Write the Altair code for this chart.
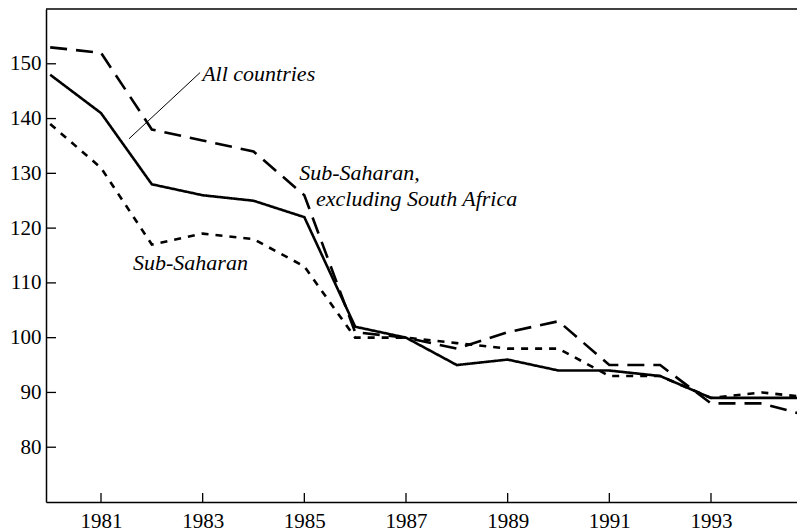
import altair as alt
import pandas as pd

years = list(range(1980, 1996))
all_countries = [148, 141, 128, 126, 125, 122, 102, 100, 95, 96, 94, 94, 93, 89, 89, 89]
ss_excl_sa = [153, 152, 138, 136, 134, 126, 101, 100, 98, 101, 103, 95, 95, 88, 88, 85.5]
sub_saharan = [139, 131, 117, 119, 118, 113, 100, 100, 99, 98, 98, 93, 93, 89, 90, 89]

x_tick_years = [1981, 1983, 1985, 1987, 1989, 1991, 1993]
y_tick_values = [80, 90, 100, 110, 120, 130, 140, 150]

series_names = ["All countries", "Sub-Saharan, excluding South Africa", "Sub-Saharan"]
series_values = [all_countries, ss_excl_sa, sub_saharan]
series_dash = [[1, 0], [17, 9], [7, 7]]

# annotation labels (data coordinates)
label_text = ["All countries", "Sub-Saharan,", "excluding South Africa", "Sub-Saharan"]
label_x = [1982.99, 1984.90, 1985.23, 1981.63]
label_y = [148.2, 130.1, 125.4, 113.7]

leader_x = [1981.55]
leader_y = [136.3]
leader_x2 = [1982.95]
leader_y2 = [148.4]

W, H = 751, 493
X_DOMAIN = [1979.918, 1994.692]
Y_DOMAIN = [70, 160]
FONT = "Times New Roman, Liberation Serif, DejaVu Serif, serif"

rows = []
for name, vals in zip(series_names, series_values):
    for yr, v in zip(years, vals):
        rows.append({"year": yr, "value": v, "series": name})
df = pd.DataFrame(rows)

xs = alt.Scale(domain=X_DOMAIN, nice=False, zero=False)
ys = alt.Scale(domain=Y_DOMAIN, nice=False, zero=False)

x_axis = alt.Axis(values=x_tick_years, format="d", title=None, grid=False,
                  ticks=False, tickSize=0, labelFont=FONT, labelFontSize=21,
                  labelColor="black", labelPadding=8, domainColor="black",
                  domainWidth=1.5, labelFlush=False)
y_axis = alt.Axis(values=y_tick_values, title=None, grid=False,
                  ticks=False, tickSize=0, labelFont=FONT, labelFontSize=21,
                  labelColor="black", labelPadding=5, domainColor="black",
                  domainWidth=1.5, labelFlush=False)

lines = alt.Chart(df).mark_line(clip=True, color="black", strokeWidth=2.6).encode(
    x=alt.X("year:Q", scale=xs, axis=x_axis),
    y=alt.Y("value:Q", scale=ys, axis=y_axis),
    strokeDash=alt.StrokeDash("series:N",
                              scale=alt.Scale(domain=series_names, range=series_dash),
                              legend=None),
    detail="series:N",
)

xt = alt.Chart(pd.DataFrame({"year": x_tick_years})).mark_rule(color="black", strokeWidth=1.3).encode(
    x=alt.X("year:Q", scale=xs),
    y=alt.value(H),
    y2=alt.value(H - 9),
)
yt = alt.Chart(pd.DataFrame({"v": y_tick_values})).mark_rule(color="black", strokeWidth=1.3).encode(
    y=alt.Y("v:Q", scale=ys),
    x=alt.value(0),
    x2=alt.value(10),
)

top = alt.Chart(pd.DataFrame({"a": [0]})).mark_rule(color="black", strokeWidth=1.5).encode(
    x=alt.value(0), x2=alt.value(W), y=alt.value(0)
)

lab_df = pd.DataFrame({"t": label_text, "x": label_x, "y": label_y})
labels = alt.Chart(lab_df).mark_text(font=FONT, fontStyle="italic", fontSize=22,
                                     align="left", baseline="middle", color="black").encode(
    x=alt.X("x:Q", scale=xs),
    y=alt.Y("y:Q", scale=ys),
    text="t:N",
)

lead_df = pd.DataFrame({"x": leader_x, "y": leader_y, "x2": leader_x2, "y2": leader_y2})
leader = alt.Chart(lead_df).mark_rule(color="black", strokeWidth=1).encode(
    x=alt.X("x:Q", scale=xs), y=alt.Y("y:Q", scale=ys),
    x2="x2:Q", y2="y2:Q",
)

chart = alt.layer(lines, xt, yt, top, leader, labels).properties(
    width=W, height=H,
    autosize=alt.AutoSizeParams(type="none"),
    padding={"left": 38, "top": 1, "right": 0, "bottom": 29},
    background="white",
).configure_view(stroke=None)

chart.save("out.html", embed_options={"renderer": "svg", "actions": False})
